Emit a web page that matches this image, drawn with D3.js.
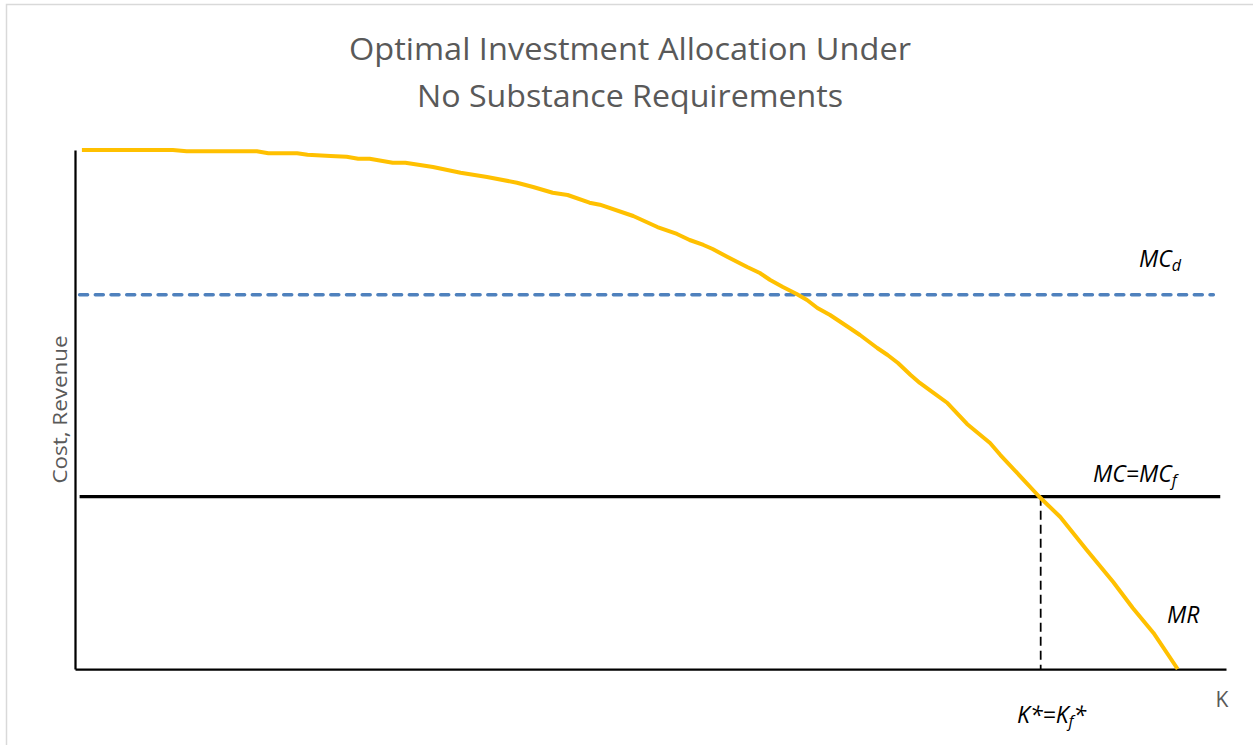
<!DOCTYPE html>
<html>
<head>
<meta charset="utf-8">
<script src="https://cdn.jsdelivr.net/npm/d3@7"></script>
<style>
  html, body { margin: 0; padding: 0; background: #fff; }
  svg { display: block; }
</style>
</head>
<body>
<svg id="chart" width="1253" height="745"></svg>
<script>
// ---- Data (arbitrary units: K from 0..100, cost/revenue 0..100) ----
const mrK = [0.6, 8.5, 9.7, 15.8, 16.8, 19.3, 20.2, 22.2, 23.6, 24.6, 25.6, 27.6, 28.7, 31.1, 33.5, 35.8, 38.4, 39.8, 41.5, 42.8, 44.7, 45.6, 48.5, 50.6, 52.3, 53.4, 54.6, 55.4, 56.7, 58.4, 59.5, 60.4, 61.5, 62.7, 63.6, 64.5, 65.6, 67.3, 68.2, 69.7, 70.6, 71.5, 72.6, 73.4, 74.5, 75.8, 77.5, 79.5, 80.4, 83.8, 85.6, 87.9, 90.2, 91.9, 93.7, 95.8];
const mrValue = [100, 100, 99.75, 99.75, 99.36, 99.36, 99.09, 98.84, 98.71, 98.32, 98.32, 97.55, 97.55, 96.72, 95.63, 94.8, 93.7, 92.87, 91.77, 91.33, 89.85, 89.46, 87.28, 85.16, 83.82, 82.66, 81.7, 80.92, 79.38, 77.46, 76.3, 74.95, 73.6, 72.25, 71.1, 69.56, 68.21, 65.7, 64.35, 61.85, 60.5, 58.96, 56.65, 55.11, 53.37, 51.25, 47.21, 43.55, 41.23, 33.14, 29.29, 22.93, 16.76, 11.75, 6.94, 0];
const mcDomestic = 72.1;      // MC_d level
const mcForeign = 33.2;       // MC = MC_f level
const mcDomesticRange = [0.4, 98.9];
const mcForeignRange = [0.4, 99.5];
const kStar = 83.9;           // K* = K_f*

const titleLines = ["Optimal Investment Allocation Under", "No Substance Requirements"];
const yAxisLabel = "Cost, Revenue";
const xAxisLabel = "K";

// ---- Layout ----
const svg = d3.select("#chart");
const x = d3.scaleLinear().domain([0, 100]).range([75, 1226]);
const y = d3.scaleLinear().domain([0, 100]).range([669, 150]);

// outer chart border
svg.append("rect")
  .attr("x", 6.5).attr("y", 4.5)
  .attr("width", 1260).attr("height", 760)
  .attr("fill", "#fff")
  .attr("stroke", "#d9d9d9").attr("stroke-width", 1.5);

// Title
const title = svg.append("g").attr("font-family", "'Open Sans', 'Noto Sans', sans-serif")
  .attr("fill", "#595959").attr("font-size", 31);
const titleBase = [60, 107];
const titleWidths = [562, 426];
titleLines.forEach((t, i) => {
  title.append("text")
    .attr("x", 630).attr("y", titleBase[i])
    .attr("text-anchor", "middle")
    .attr("textLength", titleWidths[i])
    .attr("lengthAdjust", "spacingAndGlyphs")
    .text(t);
});

// Axes
const xAxis = svg.append("g").attr("transform", `translate(0,${y(0)})`)
  .call(d3.axisBottom(x).tickValues([]).tickSizeOuter(0));
const yAxis = svg.append("g").attr("transform", `translate(${x(0)},0)`)
  .call(d3.axisLeft(y).tickValues([]).tickSizeOuter(0));
[xAxis, yAxis].forEach(a => a.select(".domain").attr("stroke", "#000").attr("stroke-width", 2.25));

// MC_d dashed line
svg.append("line")
  .attr("x1", x(mcDomesticRange[0])).attr("x2", x(mcDomesticRange[1]))
  .attr("y1", y(mcDomestic)).attr("y2", y(mcDomestic))
  .attr("stroke", "#4f81bd").attr("stroke-width", 3.5)
  .attr("stroke-dasharray", "8,7.7").attr("stroke-linecap", "round");

// MC = MC_f solid line
svg.append("line")
  .attr("x1", x(mcForeignRange[0])).attr("x2", x(mcForeignRange[1]))
  .attr("y1", y(mcForeign)).attr("y2", y(mcForeign))
  .attr("stroke", "#000").attr("stroke-width", 3.25);

// K* vertical dashed
svg.append("line")
  .attr("x1", x(kStar)).attr("x2", x(kStar))
  .attr("y1", y(mcForeign)).attr("y2", y(0))
  .attr("stroke", "#000").attr("stroke-width", 1.75)
  .attr("stroke-dasharray", "9,5");

// MR curve
const mrData = mrK.map((k, i) => [k, mrValue[i]]);
svg.append("path")
  .datum(mrData)
  .attr("fill", "none")
  .attr("stroke", "#ffc000")
  .attr("stroke-width", 4)
  .attr("stroke-linejoin", "round")
  .attr("d", d3.line().x(d => x(d[0])).y(d => y(d[1])));

// Axis titles
svg.append("text")
  .attr("transform", `translate(67,${(y(0) + y(100)) / 2}) rotate(-90)`)
  .attr("text-anchor", "middle")
  .attr("font-family", "'Open Sans', 'Noto Sans', sans-serif")
  .attr("font-size", 20).attr("fill", "#595959")
  .attr("textLength", 148).attr("lengthAdjust", "spacingAndGlyphs")
  .text(yAxisLabel);

svg.append("text")
  .attr("x", 1222).attr("y", 707)
  .attr("text-anchor", "middle")
  .attr("font-family", "'Open Sans', 'Noto Sans', sans-serif")
  .attr("font-size", 21).attr("fill", "#595959")
  .text(xAxisLabel);

// Italic annotation labels
const ann = svg.append("g")
  .attr("font-family", "'Open Sans', 'Noto Sans', sans-serif")
  .attr("font-style", "italic").attr("font-size", 23).attr("fill", "#000");

function labelWithSub(xPos, yPos, main, sub, tail) {
  const t = ann.append("text").attr("x", xPos).attr("y", yPos);
  t.append("tspan").text(main);
  t.append("tspan").attr("font-size", 16).attr("dy", 4).text(sub);
  if (tail) t.append("tspan").attr("dy", -4).text(tail);
  return t;
}
labelWithSub(1139, 267, "MC", "d");
labelWithSub(1093, 482, "MC=MC", "f");
ann.append("text").attr("x", 1167).attr("y", 623).text("MR");
labelWithSub(1017, 723, "K*=K", "f", "*");
</script>
</body>
</html>
